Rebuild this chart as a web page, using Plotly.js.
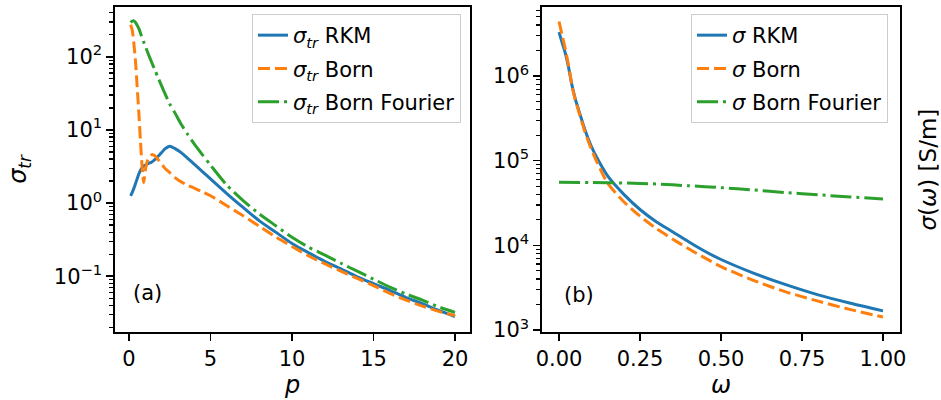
<!DOCTYPE html>
<html>
<head>
<meta charset="utf-8">
<script src="https://cdn.plot.ly/plotly-3.0.1.min.js"></script>
<style>html,body{margin:0;padding:0;background:#fff;}#chart{width:941px;height:400px;}</style>
</head>
<body>
<div id="chart"></div>
<script>
// ---- Panel (a): transport cross-section vs p ----
const pVals = [0.1,0.2,0.3,0.4,0.5,0.6,0.7,0.8,0.9,1.0,1.1,1.2,1.4,1.6,1.8,2.0,2.2,2.5,2.8,3.2,3.6,4.0,4.5,5,6,7,8,9,10,11,12,13,14,15,16,17,18,19,20];
const sigTrRKM = [1.25,1.4,1.6,1.85,2.15,2.5,2.8,3.05,3.2,3.3,3.4,3.5,3.65,3.95,4.4,4.9,5.5,6.0,5.6,4.9,4.1,3.4,2.7,2.14,1.35,0.87,0.57,0.40,0.28,0.21,0.16,0.126,0.098,0.079,0.064,0.051,0.042,0.034,0.028];
const sigTrBorn = [275,230,150,85,39,17.5,7.2,3.2,1.9,2.8,3.6,4.1,4.6,4.4,3.9,3.4,3.0,2.6,2.25,1.95,1.75,1.6,1.42,1.26,0.92,0.67,0.48,0.345,0.255,0.19,0.148,0.117,0.093,0.074,0.058,0.047,0.039,0.033,0.029];
const sigTrFourier = [295,308,310,295,270,245,212,183,160,140,122,107,83,65,51,40,31.6,22.6,17.4,12.0,8.7,6.45,4.6,3.3,1.76,1.08,0.71,0.49,0.34,0.25,0.195,0.15,0.117,0.091,0.071,0.057,0.047,0.038,0.032];

// ---- Panel (b): conductivity vs omega ----
const wVals = [0,0.01,0.02,0.03,0.04,0.05,0.06,0.08,0.1,0.12,0.15,0.2,0.25,0.3,0.35,0.4,0.45,0.5,0.6,0.7,0.8,0.9,1.0];
const sigRKM = [3.3e6,2.45e6,1.83e6,1.24e6,7.8e5,5.4e5,4.05e5,2.32e5,1.47e5,1.03e5,6.6e4,4.0e4,2.65e4,1.9e4,1.45e4,1.1e4,8.5e3,6.8e3,4.7e3,3.43e3,2.6e3,2.07e3,1.68e3];
const sigBorn = [4.4e6,3.0e6,2.04e6,1.29e6,7.7e5,5.25e5,3.9e5,2.18e5,1.36e5,9.1e4,5.43e4,3.27e4,2.21e4,1.58e4,1.19e4,9.1e3,7.1e3,5.6e3,3.85e3,2.82e3,2.19e3,1.74e3,1.42e3];
const wFourier = [0,0.1,0.2,0.3,0.4,0.5,0.6,0.7,0.8,0.9,1.0];
const sigFourier = [5.55e4,5.52e4,5.45e4,5.3e4,5.05e4,4.8e4,4.5e4,4.2e4,3.95e4,3.72e4,3.53e4];

const majorA = [0.1,1,10,100];
const majorAText = ['10<sup>−1</sup>','10<sup>0</sup>','10<sup>1</sup>','10<sup>2</sup>'];
const majorB = [1e3,1e4,1e5,1e6];
const majorBText = ['10<sup>3</sup>','10<sup>4</sup>','10<sup>5</sup>','10<sup>6</sup>'];

function minorTicks(lo, hi) {
  const out = [];
  for (let e = lo; e <= hi; e++) for (let m = 2; m <= 9; m++) out.push(m * Math.pow(10, e));
  return out;
}

const BLUE = '#1f77b4', ORANGE = '#ff7f0e', GREEN = '#2ca02c';
const LW = 3;
const DASH = '12px,5px';
const DASHDOT = '21px,5px,3px,5px';

function ln(color, dash) {
  const o = {color: color, width: LW, shape: 'spline', smoothing: 0.7};
  if (dash) o.dash = dash;
  return o;
}

const traces = [
  {x: pVals, y: sigTrRKM, type: 'scatter', mode: 'lines', name: '<i>σ<sub>tr</sub></i> RKM',
   line: ln(BLUE), xaxis: 'x', yaxis: 'y', legend: 'legend', legendgroup: 'a1'},
  {x: pVals, y: sigTrBorn, type: 'scatter', mode: 'lines', name: '<i>σ<sub>tr</sub></i> Born',
   line: ln(ORANGE, DASH), xaxis: 'x', yaxis: 'y', legend: 'legend', legendgroup: 'a2'},
  {x: pVals, y: sigTrFourier, type: 'scatter', mode: 'lines', name: '<i>σ<sub>tr</sub></i> Born Fourier',
   line: ln(GREEN, DASHDOT), xaxis: 'x', yaxis: 'y', legend: 'legend', legendgroup: 'a3'},
  {x: wVals, y: sigRKM, type: 'scatter', mode: 'lines', name: '<i>σ</i> RKM',
   line: ln(BLUE), xaxis: 'x2', yaxis: 'y2', legend: 'legend2', legendgroup: 'b1'},
  {x: wVals, y: sigBorn, type: 'scatter', mode: 'lines', name: '<i>σ</i> Born',
   line: ln(ORANGE, DASH), xaxis: 'x2', yaxis: 'y2', legend: 'legend2', legendgroup: 'b2'},
  {x: wFourier, y: sigFourier, type: 'scatter', mode: 'lines', name: '<i>σ</i> Born Fourier',
   line: ln(GREEN, DASHDOT), xaxis: 'x2', yaxis: 'y2', legend: 'legend2', legendgroup: 'b3'}
];

const W = 941, H = 400, MT = 7, MB = 68;
const PH = H - MT - MB;
const FONT = 'DejaVu Sans, sans-serif';
const FS = 21;

const axCommon = {
  showgrid: false, zeroline: false, showline: true, mirror: true,
  linecolor: '#000', linewidth: 1.6, ticks: 'outside', ticklen: 7, tickwidth: 1.6,
  tickcolor: '#000', tickfont: {family: FONT, size: FS, color: '#000'}, automargin: false
};

const legendCommon = {
  bgcolor: 'rgba(255,255,255,0.85)', bordercolor: '#cccccc', borderwidth: 1,
  font: {family: FONT, size: FS, color: '#000'}, tracegroupgap: 3,
  xanchor: 'right', yanchor: 'top'
};

const layout = {
  width: W, height: H,
  margin: {l: 0, r: 0, t: MT, b: MB},
  paper_bgcolor: '#fff', plot_bgcolor: '#fff',
  font: {family: FONT, size: FS, color: '#000'},
  showlegend: true,
  xaxis: Object.assign({}, axCommon, {
    domain: [115 / W, 470 / W], range: [-0.86, 20.92], tickvals: [0,5,10,15,20],
    title: {text: '<i>p</i>', font: {family: FONT, size: 24}, standoff: 6}
  }),
  yaxis: Object.assign({}, axCommon, {
    type: 'log', range: [-1.764, 2.682], tickvals: majorA, ticktext: majorAText,
    minor: {tickvals: minorTicks(-2, 2), ticks: 'outside', ticklen: 4, tickwidth: 1.2, tickcolor: '#000'},
    title: {text: '<i>σ<sub>tr</sub></i>', font: {family: FONT, size: 24}, standoff: 20}
  }),
  xaxis2: Object.assign({}, axCommon, {
    domain: [542 / W, 900 / W], anchor: 'y2', range: [-0.0525, 1.0525],
    tickvals: [0,0.25,0.5,0.75,1.0], tickformat: '.2f',
    title: {text: '<i>ω</i>', font: {family: FONT, size: 24}, standoff: 6}
  }),
  yaxis2: Object.assign({}, axCommon, {
    anchor: 'x2', type: 'log', range: [2.976, 6.815], tickvals: majorB, ticktext: majorBText,
    minor: {tickvals: minorTicks(3, 6), ticks: 'outside', ticklen: 4, tickwidth: 1.2, tickcolor: '#000'}
  }),
  legend: Object.assign({}, legendCommon, {x: 461 / W, y: (332 - 14) / PH}),
  legend2: Object.assign({}, legendCommon, {x: 888 / W, y: (332 - 14) / PH}),
  annotations: [
    {text: '(a)', xref: 'x domain', yref: 'y domain', x: 0.045, y: 0.12, xanchor: 'left', yanchor: 'middle',
     showarrow: false, font: {family: FONT, size: FS, color: '#000'}},
    {text: '(b)', xref: 'x2 domain', yref: 'y2 domain', x: 0.055, y: 0.115, xanchor: 'left', yanchor: 'middle',
     showarrow: false, font: {family: FONT, size: FS, color: '#000'}},
    {text: '<i>σ</i>(<i>ω</i>) [S/m]', xref: 'paper', yref: 'y2 domain', x: 927 / W, y: 0.5,
     xanchor: 'center', yanchor: 'middle', textangle: -90, showarrow: false,
     font: {family: FONT, size: 23, color: '#000'}}
  ]
};

Plotly.newPlot('chart', traces, layout, {displayModeBar: false, staticPlot: true});
</script>
</body>
</html>
